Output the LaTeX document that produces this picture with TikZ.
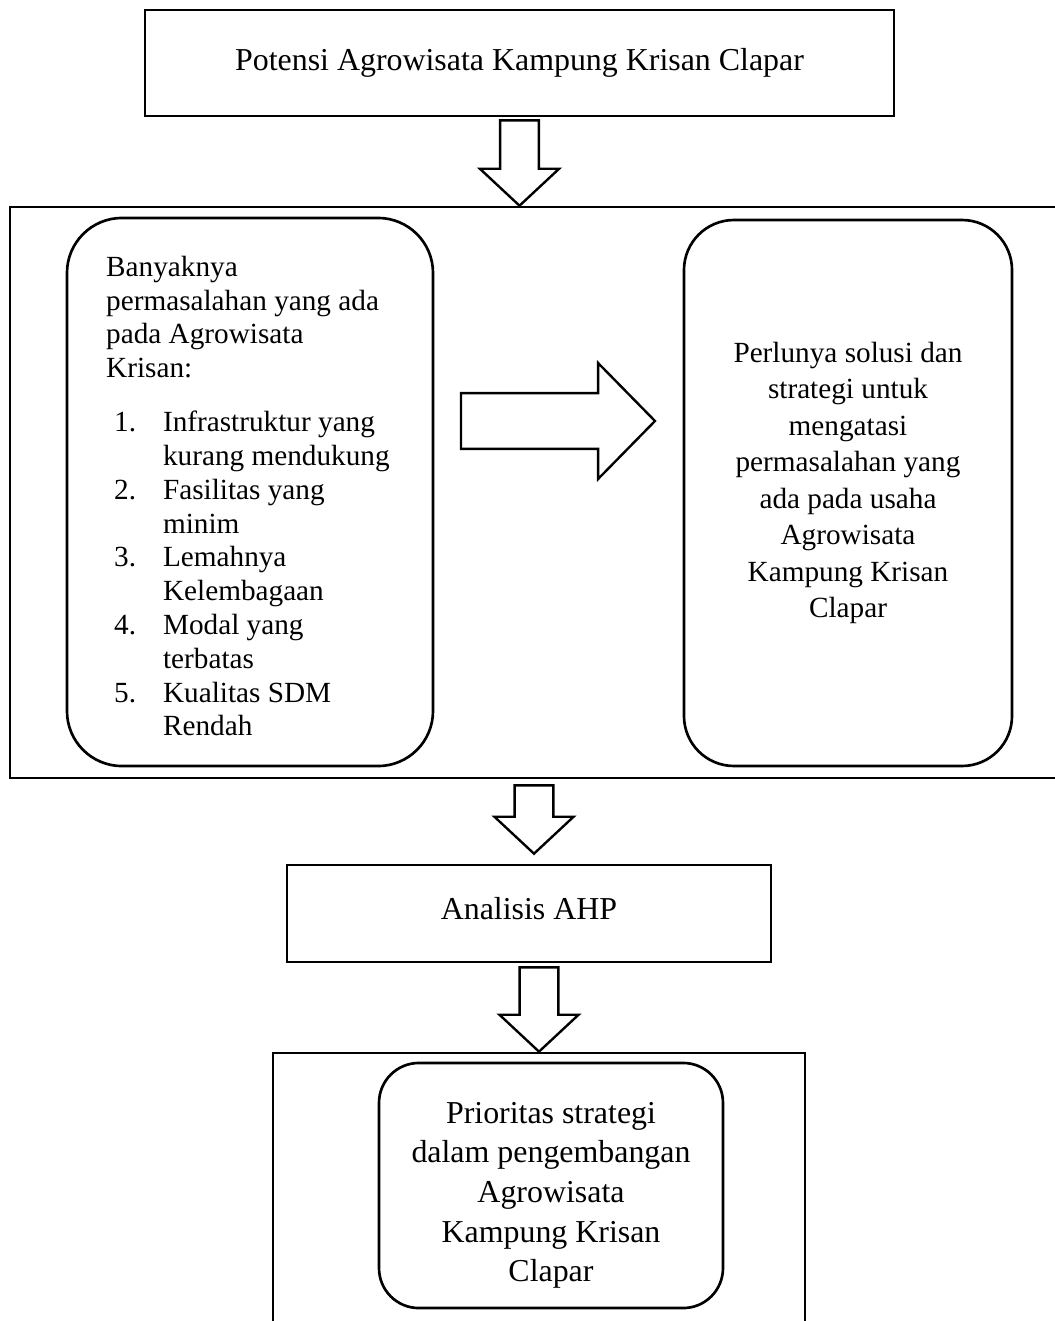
\documentclass[tikz,border=0pt]{standalone}
\usepackage{fontspec}
\setmainfont{Liberation Serif}
\usetikzlibrary{calc}
% nomor daftar dan indentasi baris lanjutan
\newcommand{\butir}[1]{\hspace*{3pt}\makebox[18.4pt][l]{#1}}
\newcommand{\lanjut}{\hspace*{21.4pt}}
% panah blok: #1 pangkal, #2 ujung
\newcommand{\panahturun}[2]{%
  \draw[blok] let \p1=#1, \p2=#2 in
    (\x2-7.3pt,\y1) -- (\x2+7.3pt,\y1) -- (\x2+7.3pt,\y2+13.9pt)
    -- (\x2+14.9pt,\y2+13.9pt) -- (\x2,\y2) -- (\x2-14.9pt,\y2+13.9pt)
    -- (\x2-7.3pt,\y2+13.9pt) -- cycle;}
\newcommand{\panahkanan}[2]{%
  \draw[blok] let \p1=#1, \p2=#2 in
    (\x1,\y2+10.5pt) -- (\x2-21.4pt,\y2+10.5pt) -- (\x2-21.4pt,\y2+21.8pt)
    -- (\x2,\y2) -- (\x2-21.4pt,\y2-21.8pt) -- (\x2-21.4pt,\y2-10.5pt)
    -- (\x1,\y2-10.5pt) -- cycle;}

\begin{document}
\begin{tikzpicture}[
        x=0.3762pt, y=-0.3762pt,
        kotak/.style={draw, line width=1pt, inner sep=0pt,
                      font=\fontsize{12}{14.9}\selectfont},
        bulat/.style={draw, line width=1pt, inner sep=0pt, rounded corners=#1},
        bulat/.default=20pt,
        teks/.style={inner sep=0pt, font=\fontsize{11}{12.7}\selectfont},
        blok/.style={draw, fill=white, line width=0.9pt, line join=miter}
    ]
        \useasboundingbox (0,0) rectangle (1054,1321);
        \node[kotak, minimum width=281.8pt, minimum height=39.9pt] (potensi) at (519.5,63)
            {Potensi Agrowisata Kampung Krisan Clapar};
        \node[kotak, minimum width=398.8pt, minimum height=214.8pt] (bingkai) at (540,492.5) {};
        \node[bulat=20.7pt, minimum width=137.7pt, minimum height=206.2pt] (masalah) at (250,492) {};
        \node[bulat=18.8pt, minimum width=123.4pt, minimum height=205.4pt] (solusi) at (848,493) {};
        \node[kotak, minimum width=182.1pt, minimum height=36.5pt, text depth=4pt] (ahp) at (529,913.5)
            {Analisis AHP};
        \node[kotak, minimum width=200.1pt, minimum height=108pt] (bawah) at (539,1196.5) {};
        \node[bulat=15pt, minimum width=129.4pt, minimum height=92.2pt] (prioritas) at (551,1185.5) {};
        % isi kotak
        \node[teks, anchor=north west, align=left] (masalahteks) at ($(masalah.north west)+(40,39)$) {%
            Banyaknya\\
            permasalahan yang ada\\
            pada Agrowisata\\
            Krisan:\\[7.7pt]
            \butir{1.}Infrastruktur yang\\
            \lanjut kurang mendukung\\
            \butir{2.}Fasilitas yang\\
            \lanjut minim\\
            \butir{3.}Lemahnya\\
            \lanjut Kelembagaan\\
            \butir{4.}Modal yang\\
            \lanjut terbatas\\
            \butir{5.}Kualitas SDM\\
            \lanjut Rendah};
        \node[teks, anchor=north, align=center, font=\fontsize{11}{13.7}\selectfont] (solusiteks)
            at ($(solusi.north)+(0,123)$) {%
            Perlunya solusi dan\\ strategi untuk\\ mengatasi\\ permasalahan yang\\
            ada pada usaha\\ Agrowisata\\ Kampung Krisan\\ Clapar};
        \node[teks, anchor=north, align=center, font=\fontsize{12}{14.9}\selectfont] (prioritasteks)
            at ($(prioritas.north)+(0,40)$) {%
            Prioritas strategi\\ dalam pengembangan\\ Agrowisata\\ Kampung Krisan\\ Clapar};
        % panah blok
        \coordinate (kiri) at (461,421);
        \coordinate (kanan) at (655,421);
        \panahturun{($(potensi.south)+(0,3)$)}{(potensi.south |- bingkai.north)}
        \panahkanan{(kiri)}{(kanan)}
        \panahturun{($(bingkai.south)+(0,6)$)}{($(ahp.north)+(5,-10)$)}
        \panahturun{($(ahp.south)+(0,4)$)}{(bawah.north)}
    \end{tikzpicture}
\end{document}
